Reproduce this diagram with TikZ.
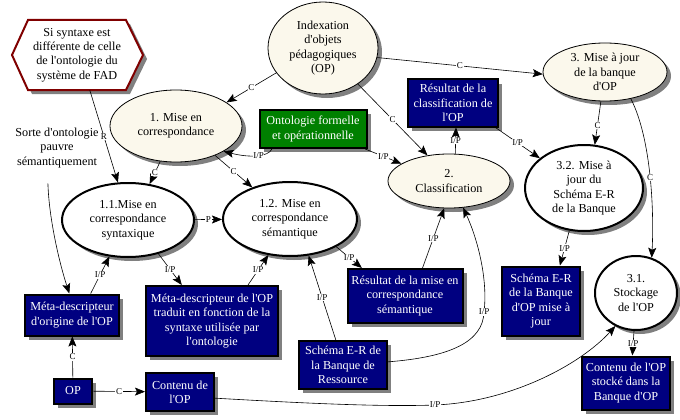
\documentclass[tikz,border=0pt]{standalone}
\usepackage{fontspec}
\setmainfont{Liberation Serif}[Ligatures=TeXOff]
\usetikzlibrary{arrows.meta,shapes.geometric,shadows,calc}
\definecolor{cream}{RGB}{251,248,236}
\definecolor{navy}{RGB}{0,0,128}
\definecolor{ogreen}{RGB}{0,128,0}
\definecolor{hexred}{RGB}{128,0,0}
\definecolor{shadowgray}{RGB}{128,128,128}
\begin{document}
\begin{tikzpicture}[x=1pt,y=-1pt,
  txt/.style={font=\fontsize{12.2}{14.3}\selectfont, align=center},
  shad/.style={drop shadow={shadow xshift=4pt,shadow yshift=-4pt,fill=shadowgray,opacity=1}},
  ell/.style={ellipse, txt, inner sep=-4pt, shad, fill=cream, draw=black, line width=0.8pt},
  ellw/.style={ellipse, txt, inner sep=-4pt, shad, fill=white, draw=black, line width=2pt},
  bx/.style={rectangle, txt, inner sep=0.5pt, shad, fill=navy, draw=black, line width=2pt, text=white},
  gbx/.style={bx, fill=ogreen},
  hexb/.style={draw=hexred, fill=white, line width=2pt, line join=miter},
  lbl/.style={font=\fontsize{9}{9}\selectfont, fill=white, inner sep=0.6pt},
  arr/.style={-{Stealth[length=10pt,width=8pt,inset=2pt]}, line width=0.6pt},
]
\useasboundingbox[fill=white] (0,0) rectangle (680,420);

% hexagon
\draw[hexb, shad] (12,55) -- (28,20) -- (126,20) -- (143,55) -- (126,90) -- (28,90) -- cycle;
\node[txt, minimum width=131pt, minimum height=70pt, inner sep=0pt] (hex) at (77,55)
  {Si syntaxe est\\différente de celle\\de l'ontologie du\\système de FAD};

% ellipses
\node[ell, minimum width=110pt, minimum height=92pt] (idx) at (323,48) {Indexation\\d'objets\\pédagogiques\\(OP)};
\node[ell, minimum width=132pt, minimum height=72pt] (m1) at (176,126) {1. Mise en\\correspondance};
\node[ell, minimum width=122pt, minimum height=54pt] (cls) at (449,181) {2.\\Classification};
\node[ell, minimum width=124pt, minimum height=58pt] (m3) at (605,72) {3. Mise à jour\\de la banque\\d'OP};
\node[ellw, minimum width=118pt, minimum height=86pt] (m32) at (584,188) {3.2. Mise à\\jour du\\Schéma E-R\\de la Banque};
\node[ellw, minimum width=132pt, minimum height=74pt] (m11) at (128,220) {1.1.Mise en\\correspondance\\syntaxique};
\node[ellw, minimum width=134pt, minimum height=74pt] (m12) at (290,219) {1.2. Mise en\\correspondance\\sémantique};
\node[ellw, minimum width=82pt, minimum height=74pt] (m31) at (636,293) {3.1.\\Stockage\\de l'OP};

% boxes
\node[gbx, minimum width=107pt, minimum height=38pt] (ont) at (313,129) {Ontologie formelle\\et opérationnelle};
\node[bx, minimum width=90pt, minimum height=47pt] (rescl) at (453,103) {Résultat de la\\classification de\\l'OP};
\node[bx, minimum width=94pt, minimum height=41pt] (meta0) at (72,315) {Méta-descripteur\\d'origine de l'OP};
\node[bx, minimum width=132pt, minimum height=70pt] (meta1) at (212,321) {Méta-descripteur de l'OP\\traduit en fonction de la\\syntaxe utilisée par\\l'ontologie};
\node[bx, minimum width=38pt, minimum height=25pt] (op) at (73,391) {OP};
\node[bx, minimum width=68pt, minimum height=38pt] (cont) at (180,392) {Contenu de\\l'OP};
\node[bx, minimum width=88pt, minimum height=48pt] (schres) at (343,365) {Schéma E-R de\\la Banque de\\Ressource};
\node[bx, minimum width=115pt, minimum height=54pt] (ressem) at (405,296) {Résultat de la mise en\\correspondance\\sémantique};
\node[bx, minimum width=78pt, minimum height=69pt] (schop) at (541,301) {Schéma E-R\\de la Banque\\d'OP mise à\\jour};
\node[bx, minimum width=88pt, minimum height=53pt] (contst) at (626,383) {Contenu de l'OP\\stocké dans la\\Banque d'OP};

% free text
\node[txt] (sorte) at (57,148) {Sorte d'ontologie\\pauvre\\sémantiquement};

% connectors
\draw[arr] (idx.208) -- node[lbl]{C} (m1.25);
\draw[arr] (idx.-10) -- node[lbl]{C} (m3.182);
\draw[arr] (idx.-46) -- node[lbl]{C} (cls.130);
\draw[arr] (hex.-70) -- node[lbl]{R} (m11.105);
\draw[arr] (m1.246) -- node[lbl]{C} (m11.59);
\draw[arr] (m1.-37) -- node[lbl]{C} (m12.140);
\draw[arr] (ont.206) .. controls (268,157) and (250,158) .. node[lbl,pos=0.45]{I/P} (m1.-28);
\draw[arr] (ont.-21) -- node[lbl]{I/P} (cls.160);
\draw[arr] (cls.77) -- node[lbl]{I/P} (rescl.-83);
\draw[arr] (rescl.-30) -- node[lbl]{I/P} (m32.146);
\draw[arr] (m3.262) -- node[lbl,pos=.55]{C} (m32.76);
\draw[arr] (m3.-46) .. controls (652,140) and (654,215) .. node[lbl]{C} (m31.66);
\draw[arr] (m32.251) -- node[lbl]{I/P} (schop.62);
\draw[arr] (m11) -- node[lbl]{P} (m12);
\draw[arr, shorten <=12pt] (sorte.-112) .. controls (49,220) and (60,265) .. (meta0.97);
\draw[arr] (meta0.49) -- node[lbl]{I/P} (m11.243);
\draw[arr] (m11.-48) -- node[lbl]{I/P} (meta1.130);
\draw[arr] (meta1.45) -- node[lbl]{I/P} (m12.239);
\draw[arr] (schres.106) -- node[lbl]{I/P} (m12.-63);
\draw[arr] (m12.-31) -- node[lbl]{I/P} (ressem.147);
\draw[arr] (ressem.58) -- node[lbl]{I/P} (cls.-100);
\draw[arr] (schres.4) .. controls (450,357) and (483,342) .. (484,312) node[lbl]{I/P}
  .. controls (488,280) and (478,240) .. (cls.-62);
\draw[arr] (op) -- node[lbl]{C} (meta0);
\draw[arr] (op) -- node[lbl]{C} (cont);
\draw[arr] (cont.-10) .. controls (300,403) and (380,407) .. (435,405) node[lbl]{I/P}
  .. controls (510,402) and (580,365) .. (m31.238);
\draw[arr] (m31.-93) -- node[lbl]{I/P} (contst.77);
\end{tikzpicture}
\end{document}
